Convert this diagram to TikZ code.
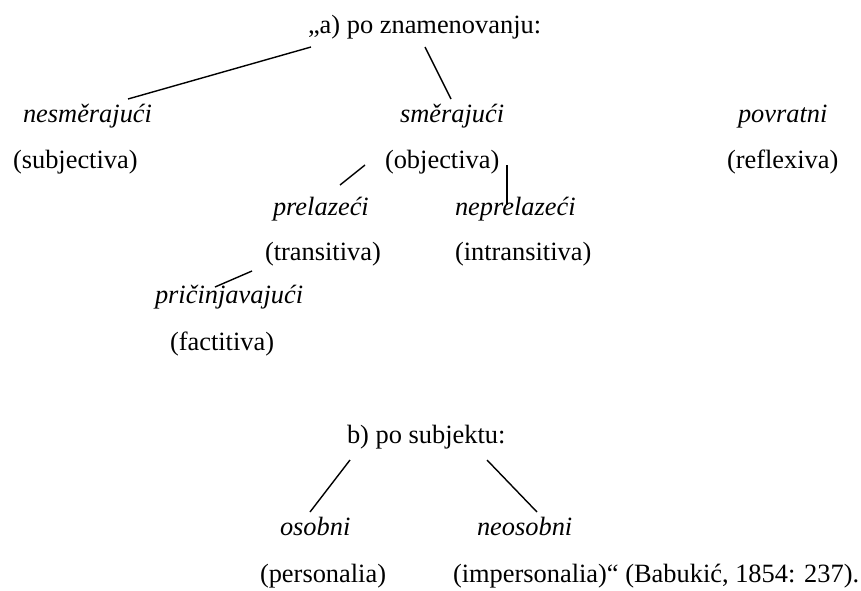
\documentclass[tikz,border=0pt]{standalone}
\usepackage{fontspec}
\setmainfont{Liberation Serif}
\begin{document}
\begin{tikzpicture}[x=1pt,y=1pt,
  lab/.style={anchor=base west,inner sep=0pt,outer sep=0pt,font=\fontsize{26.4}{30}\selectfont},
  ilab/.style={lab,font=\fontsize{26.4}{30}\selectfont\itshape},
  conn/.style={line width=1.4pt}]
\useasboundingbox (0,0) rectangle (861,-590);
% nodes
\node[lab]  (top)    at (308,-33)  {„a) po znamenovanju:};
\node[ilab] (nesm)   at (23,-122)  {nesměrajući};
\node[lab]  (subj)   at (13,-168)  {(subjectiva)};
\node[ilab] (smer)   at (400,-122) {směrajući};
\node[lab]  (obj)    at (385,-168) {(objectiva)};
\node[ilab] (povr)   at (738,-122) {povratni};
\node[lab]  (refl)   at (727,-168) {(reflexiva)};
\node[ilab] (prel)   at (273,-215) {prelazeći};
\node[ilab] (neprel) at (455,-215) {neprelazeći};
\node[lab]  (trans)  at (265,-260) {(transitiva)};
\node[lab]  (intr)   at (455,-260) {(intransitiva)};
\node[ilab] (pric)   at (155,-303) {pričinjavajući};
\node[lab]  (fact)   at (170,-350) {(factitiva)};
\node[lab]  (bsub)   at (347,-443) {b) po subjektu:};
\node[ilab] (osob)   at (280,-535) {osobni};
\node[ilab] (neos)   at (477,-535) {neosobni};
\node[lab]  (pers)   at (260,-582) {(personalia)};
\node[lab]  (imp)    at (453,-582) {(impersonalia)“ (Babukić, 1854: 237).};
% connector ends
\coordinate (a1) at (311,-47);  \coordinate (a2) at (128,-99);
\coordinate (b1) at (425,-47);  \coordinate (b2) at (451,-99);
\coordinate (c1) at (365,-165); \coordinate (c2) at (340,-185);
\coordinate (d1) at (507,-165); \coordinate (d2) at (507,-205);
\coordinate (e1) at (252,-271); \coordinate (e2) at (215,-287);
\coordinate (f1) at (350,-460); \coordinate (f2) at (310,-512);
\coordinate (g1) at (487,-460); \coordinate (g2) at (537,-512);
\draw[conn] (a1) -- (a2);
\draw[conn] (b1) -- (b2);
\draw[conn] (c1) -- (c2);
\draw[conn] (d1) -- (d2);
\draw[conn] (e1) -- (e2);
\draw[conn] (f1) -- (f2);
\draw[conn] (g1) -- (g2);
\end{tikzpicture}
\end{document}
